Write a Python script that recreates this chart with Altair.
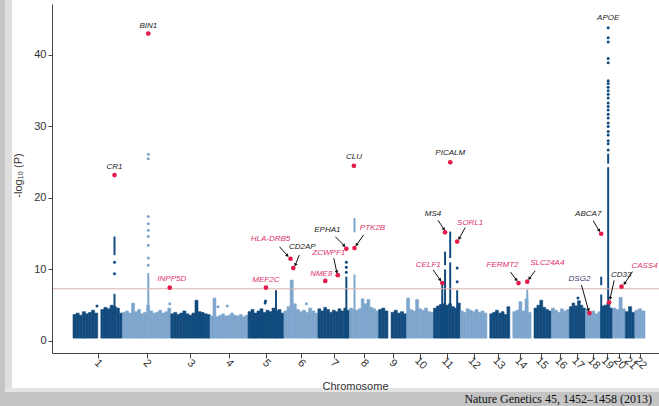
import math
import altair as alt
import pandas as pd

# ---------------- data ----------------
CHROM = list(range(1, 23))
CHROM_LEN = [249.25, 243.20, 198.02, 191.15, 180.92, 171.12, 159.14, 146.36, 141.21, 135.53,
             135.01, 133.85, 115.17, 107.35, 102.53, 90.35, 81.20, 78.08, 59.13, 63.03, 48.13, 51.30]

# top of the dense cloud of markers, in equal bins along each chromosome (0 = no markers)
PROFILE = [
    [3.7, 3.9, 3.6, 4.1, 3.8, 4.0, 4.3, 3.9, 0, 4.4, 4.7, 4.5, 5.0, 4.8, 4.6, 3.9],
    [4.0, 4.2, 3.9, 5.3, 4.1, 4.4, 3.8, 4.0, 5.0, 4.2, 3.9, 4.0, 4.3, 3.9, 4.1, 4.6],
    [3.8, 4.0, 3.7, 3.9, 4.2, 3.8, 3.6, 3.9, 5.7, 4.1, 4.0, 3.8, 3.7],
    [3.5, 6.0, 3.4, 3.6, 3.8, 3.5, 3.6, 3.9, 3.6, 3.5, 3.7, 3.4, 3.6],
    [4.1, 4.4, 3.9, 4.2, 4.5, 4.0, 4.3, 4.1, 4.6, 4.2, 4.4, 3.9],
    [4.2, 4.8, 8.5, 5.2, 4.4, 4.1, 4.3, 4.0, 4.6, 4.2, 3.9],
    [4.5, 4.2, 4.7, 4.4, 4.0, 4.3, 4.1, 4.5, 4.2, 4.6, 4.3],
    [4.6, 4.4, 4.3, 4.5, 5.9, 5.2, 5.8, 4.7, 4.5, 4.2],
    [4.4, 4.6, 4.2, 0, 4.0, 4.3, 3.9, 4.1, 3.8],
    [6.0, 4.4, 4.2, 5.8, 4.5, 4.3, 4.6, 4.1, 4.0],
    [4.6, 4.9, 5.1, 5.2, 5.0, 5.2, 4.8, 4.6, 5.3],
    [4.2, 4.0, 4.5, 4.3, 4.1, 4.4, 4.0, 4.2, 3.9],
    [0, 3.8, 4.0, 4.3, 3.9, 4.1, 3.7, 4.8],
    [0, 4.1, 4.3, 5.5, 4.2, 5.9, 4.0],
    [0, 4.6, 5.0, 5.7, 4.7, 4.4, 4.2],
    [4.6, 4.3, 4.0, 4.5, 4.2, 4.4],
    [4.8, 5.3, 4.9, 5.6, 5.0, 4.6],
    [4.4, 4.0, 4.2, 3.8, 4.1],
    [4.9, 5.0, 5.4, 4.6],
    [4.6, 4.4, 6.1, 4.5],
    [4.1, 4.8, 4.0],
    [4.3, 4.5, 4.2],
]
CLOUD_FLOOR = 0.4

# solid columns of markers: chromosome, position (Mb), low, high
COL_CHR = [1, 1, 2, 5, 7, 8, 8, 11, 11, 11, 11, 11, 11, 14, 19, 19, 19, 19]
COL_POS = [209, 209, 130, 141, 143, 25, 25, 44, 58, 58, 84, 84, 119, 88, 1, 1, 36, 36]
COL_LOW = [0.4, 12.0, 0.4, 0.4, 0.4, 0.4, 15.2, 0.4, 0.4, 10.6, 0.4, 11.6, 0.4, 0.4, 0.4, 7.8, 0.4, 24.8]
COL_HIGH = [6.6, 14.6, 9.5, 7.1, 9.0, 9.3, 17.2, 8.0, 10.0, 12.5, 11.0, 15.3, 7.1, 7.2, 6.5, 9.0, 24.3, 26.2]

# single markers above the cloud
PT_CHR = [1, 1, 1,
          2, 2, 2, 2, 2, 2, 2, 2, 2, 2,
          4, 4, 5, 5, 6, 7, 7, 7, 11, 11, 17, 17] + [19] * 23
PT_POS = [209, 209, 121,
          130, 130, 130, 130, 130, 130, 130, 130, 130, 238,
          40, 86, 86, 88, 113, 143, 143, 143, 119, 119, 43, 50] + [36] * 23
PT_VAL = [9.4, 11.0, 4.9,
          10.6, 11.6, 13.4, 14.6, 15.5, 16.4, 17.4, 25.5, 26.1, 5.2,
          4.8, 4.9, 5.3, 5.6, 5.2, 9.6, 10.3, 11.0, 8.3, 10.2, 6.0, 5.5] + \
         [26.7, 27.6, 28.0, 28.8, 29.3, 30.0, 30.5, 31.2, 31.7, 32.3, 32.8, 33.3, 34.0,
          34.5, 35.0, 35.5, 36.0, 36.4, 38.9, 39.5, 41.8, 42.4, 43.8]

# highlighted loci
HIT_GENE = ["CR1", "BIN1", "INPP5D", "MEF2C", "HLA-DRB5", "CD2AP", "NME8", "ZCWPF1", "EPHA1",
            "PTK2B", "CLU", "CELF1", "MS4", "PICALM", "SORL1", "FERMT2", "SLC24A4", "DSG2",
            "ABCA7", "APOE", "CD33", "CASS4"]
HIT_CHR = [1, 2, 2, 5, 6, 6, 7, 7, 7, 8, 8, 11, 11, 11, 11, 14, 14, 18, 19, 19, 19, 20]
HIT_POS = [209, 130, 238, 90, 33, 47, 37, 100, 143, 25, 22, 44, 58, 84, 119, 44, 88, 20, 1, 36, 41, 44]
HIT_LOGP = [23.2, 43.0, 7.45, 7.45, 11.5, 10.2, 8.4, 9.2, 12.9, 13.0, 24.5, 8.1, 15.2, 25.0,
            13.9, 8.1, 8.3, 3.9, 15.0, 43.8, 5.4, 7.6]
HIT_GROUP = ["known", "known", "new", "new", "new", "known", "new", "new", "known", "new", "known",
             "new", "known", "known", "new", "new", "new", "suggestive", "known", "known", "known", "new"]
HIT_DOT = [True] * 19 + [False] + [True, True]

THRESHOLD = 7.3
CITATION = "Nature Genetics 45, 1452\u20131458 (2013)"

# ---------------- layout / style ----------------
W, H = 607, 349
XDOM = [-105.8, 2951.5]
YDOM = [-1.68, 47.13]
MB_PER_PX = (XDOM[1] - XDOM[0]) / W
VAL_PER_PX = (YDOM[1] - YDOM[0]) / H
DARK, LIGHT = "#124b7e", "#7ea6cd"
RED = "#e31a4b"

LABEL_OFFSET = {
    "CR1": (0, -8), "BIN1": (0, -8), "INPP5D": (2, -9), "MEF2C": (0, -8), "HLA-DRB5": (-20, -20),
    "CD2AP": (9, -21), "NME8": (-4, -7), "ZCWPF1": (-9, -22), "EPHA1": (-19, -19), "PTK2B": (18, -20),
    "CLU": (0, -9), "CELF1": (-14, -18), "MS4": (-12, -18), "PICALM": (0, -9), "SORL1": (13, -19),
    "FERMT2": (-16, -18), "SLC24A4": (20, -19), "DSG2": (-10, -34), "ABCA7": (-13, -20),
    "APOE": (0, -10), "CD33": (12, -27), "CASS4": (23, -21)}
ARROWS = {
    "HLA-DRB5": (-11, -12, -3, -3), "CD2AP": (6, -13, 2, -3), "ZCWPF1": (-4, -17, -1, -3),
    "EPHA1": (-11, -12, -2, -3), "PTK2B": (9, -13, 2, -3), "CELF1": (-9, -13, -2, -3),
    "MS4": (-7, -12, -1, -3), "SORL1": (8, -14, 2, -3), "FERMT2": (-8, -11, -2, -3),
    "SLC24A4": (8, -11, 2, -3), "DSG2": (-8, -28, -1, -3), "ABCA7": (-8, -13, -2, -3),
    "CD33": (5, -22, 1, -4), "CASS4": (11, -15, 3, -3)}
COL_HALF = 5.0  # Mb

# ---------------- tables ----------------
starts, acc = [], 0.0
for L in CHROM_LEN:
    starts.append(acc)
    acc += L
centers = [round(s + L / 2, 2) for s, L in zip(starts, CHROM_LEN)]
shade = {c: ("odd" if c % 2 else "even") for c in CHROM}

rows = []
for c, s, L, prof in zip(CHROM, starts, CHROM_LEN, PROFILE):
    bw = L / len(prof)
    for j, h in enumerate(prof):
        if h > 0:
            rows.append(dict(x=s + j * bw, x2=s + (j + 1) * bw, y=CLOUD_FLOOR, y2=h, shade=shade[c]))
cloud = pd.DataFrame(rows)

cols = pd.DataFrame([dict(x=starts[c - 1] + p - COL_HALF, x2=starts[c - 1] + p + COL_HALF,
                          y=lo, y2=hi, shade=shade[c])
                     for c, p, lo, hi in zip(COL_CHR, COL_POS, COL_LOW, COL_HIGH)])
pts = pd.DataFrame([dict(x=starts[c - 1] + p, y=v, shade=shade[c])
                    for c, p, v in zip(PT_CHR, PT_POS, PT_VAL)])

hits, labels, arrows, heads = [], [], [], []
for g, c, p, v, grp, dot in zip(HIT_GENE, HIT_CHR, HIT_POS, HIT_LOGP, HIT_GROUP, HIT_DOT):
    x0 = starts[c - 1] + p
    if dot:
        hits.append(dict(x=x0, y=v))
    dx, dy = LABEL_OFFSET[g]
    labels.append(dict(x=x0 + dx * MB_PER_PX, y=v - dy * VAL_PER_PX, gene=g, grp=grp))
    if g in ARROWS:
        sx, sy, ex, ey = ARROWS[g]
        arrows.append(dict(x=x0 + sx * MB_PER_PX, y=v - sy * VAL_PER_PX,
                           x2=x0 + ex * MB_PER_PX, y2=v - ey * VAL_PER_PX))
        ang = math.degrees(math.atan2(ex - sx, -(ey - sy))) % 360
        heads.append(dict(x=x0 + ex * MB_PER_PX, y=v - ey * VAL_PER_PX, ang=ang))
hits, labels, arrows, heads = map(pd.DataFrame, (hits, labels, arrows, heads))

# ---------------- encodings ----------------
xscale = alt.Scale(domain=XDOM, nice=False, zero=False)
yscale = alt.Scale(domain=YDOM, nice=False, zero=False)
label_expr = "indexof(" + str(centers) + ", datum.value) + 1"
xaxis = alt.Axis(values=centers, labelExpr=label_expr, title="Chromosome", grid=False, zindex=2,
                 labelAngle=45, labelAlign="center", labelBaseline="middle", labelPadding=5,
                 labelOverlap=False, labelFontSize=11, labelColor="#333333", tickSize=5,
                 tickColor="#444444", domainColor="#444444", titleFontSize=11,
                 titleFontWeight="normal", titleColor="#333333", titleX=303, titleY=33,
                 titleBaseline="middle")
yaxis = alt.Axis(values=[0, 10, 20, 30, 40], title="-log\u2081\u2080 (P)", grid=False, zindex=2,
                 labelFontSize=11, labelColor="#333333", labelPadding=2, tickSize=4,
                 tickColor="#444444", domainColor="#444444", titleFontSize=11,
                 titleFontWeight="normal", titleColor="#333333", titleX=-34, titleY=171,
                 titleBaseline="middle", titleAngle=270)
X = alt.X("x:Q", scale=xscale, axis=xaxis)
Y = alt.Y("y:Q", scale=yscale, axis=yaxis)
shade_scale = alt.Scale(domain=["odd", "even"], range=[DARK, LIGHT])
shade_color = alt.Color("shade:N", scale=shade_scale, legend=None)
shade_stroke = alt.Stroke("shade:N", scale=shade_scale, legend=None)

one = pd.DataFrame({"k": [0]})
panel = alt.Chart(one).mark_rect(color="white").encode(
    x=alt.value(-40), x2=alt.value(607), y=alt.value(-4), y2=alt.value(384))
edge = alt.Chart(one).mark_rect(color="#dedede").encode(
    x=alt.value(-47), x2=alt.value(-40), y=alt.value(-4), y2=alt.value(384))
under = alt.Chart(one).mark_rect(color="#e4e4e4").encode(
    x=alt.value(-47), x2=alt.value(607), y=alt.value(384), y2=alt.value(388))

cloud_l = alt.Chart(cloud).mark_rect(strokeWidth=0.6).encode(
    x=X, x2="x2:Q", y=Y, y2="y2:Q", color=shade_color, stroke=shade_stroke)
cols_l = alt.Chart(cols).mark_rect().encode(x=X, x2="x2:Q", y=Y, y2="y2:Q", color=shade_color)
pts_l = alt.Chart(pts).mark_circle(size=9, opacity=1).encode(x=X, y=Y, color=shade_color)
thr = alt.Chart(pd.DataFrame({"y": [THRESHOLD]})).mark_rule(color="#d9b1ae", strokeWidth=1).encode(y=Y)
arrow_l = alt.Chart(arrows).mark_rule(color="#111111", strokeWidth=1).encode(x=X, y=Y, x2="x2:Q", y2="y2:Q")
head_l = alt.Chart(heads).mark_point(shape="triangle-up", filled=True, size=14, color="#111111",
                                     opacity=1).encode(x=X, y=Y, angle=alt.Angle("ang:Q", scale=None))
hit_l = alt.Chart(hits).mark_circle(size=22, color=RED, opacity=1).encode(x=X, y=Y)
lab_l = alt.Chart(labels).mark_text(fontSize=8, fontStyle="italic", align="center",
                                    baseline="middle").encode(
    x=X, y=Y, text="gene:N",
    color=alt.Color("grp:N", scale=alt.Scale(domain=["known", "new", "suggestive"],
                                             range=["#222222", "#e0336a", "#3d3d70"]), legend=None))
cite = alt.Chart(pd.DataFrame({"t": [CITATION]})).mark_text(
    align="right", baseline="middle", font="Liberation Serif", fontSize=12, color="#111111").encode(
    x=alt.value(600), y=alt.value(395), text="t:N")

chart = alt.layer(panel, edge, under, cloud_l, cols_l, pts_l, thr, arrow_l, head_l, hit_l, lab_l, cite).properties(
    width=W, height=H, background="#c4c4c4",
    padding={"left": 52, "top": 4, "right": 0, "bottom": 53},
    autosize=alt.AutoSizeParams(type="none"),
).resolve_scale(color="independent").configure(font="Liberation Sans").configure_view(strokeWidth=0)

chart.save("out.html", embed_options={"renderer": "svg", "actions": False})
